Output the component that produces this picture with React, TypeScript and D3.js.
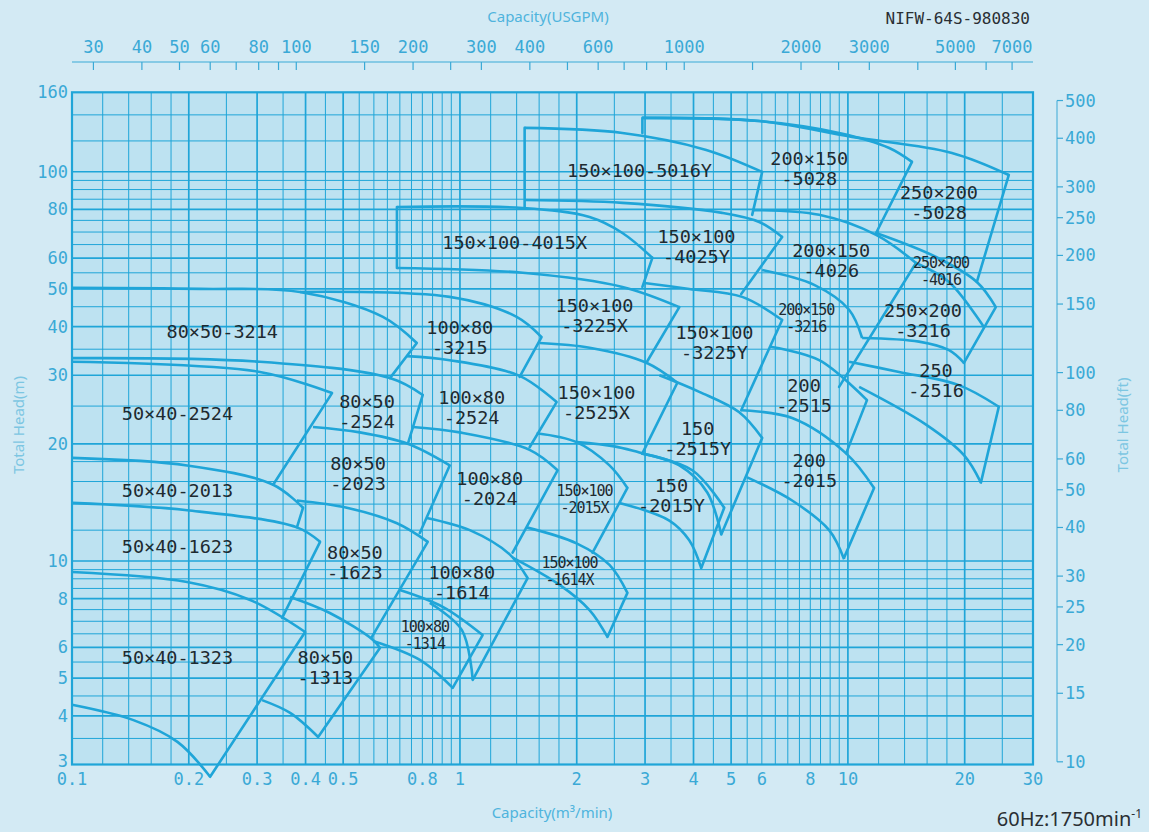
import React from 'react';
import * as d3 from 'd3';

// axis ticks
const qTicks = [0.1, 0.2, 0.3, 0.4, 0.5, 0.8, 1, 2, 3, 4, 5, 6, 8, 10, 20, 30];
const hTicks = [3, 4, 5, 6, 8, 10, 20, 30, 40, 50, 60, 80, 100, 160];
const ftTicks = [10, 15, 20, 25, 30, 40, 50, 60, 80, 100, 150, 200, 250, 300, 400, 500];
const gpmLabels = [30, 40, 50, 60, 80, 100, 150, 200, 300, 400, 600, 1000, 2000, 3000, 5000, 7000];
const gpmMinor = [70, 90, 250, 500, 700, 800, 900, 1500, 2500, 4000, 6000];

// grid
const qGrid = [0.12, 0.14, 0.16, 0.18, 0.2, 0.25, 0.3, 0.35, 0.4, 0.45, 0.5, 0.55, 0.6, 0.65, 0.7, 0.75, 0.8, 0.85, 0.9, 0.95,
  1, 1.2, 1.4, 1.6, 1.8, 2, 2.5, 3, 3.5, 4, 4.5, 5, 5.5, 6, 6.5, 7, 7.5, 8, 8.5, 9, 9.5, 10, 12, 14, 16, 18, 20, 25];
const hGrid = [3.5, 4, 4.5, 5, 5.5, 6, 6.5, 7, 7.5, 8, 8.5, 9, 9.5, 10, 12, 14, 16, 18, 20, 25, 30, 35, 40, 45, 50, 55, 60,
  65, 70, 75, 80, 85, 90, 95, 100, 120, 140];
const qMajor = [0.2, 0.3, 0.4, 0.5, 1, 2, 3, 4, 5, 10, 20];
const hMajor = [4, 5, 6, 8, 10, 20, 30, 40, 50, 60, 80, 100];

// performance curves [Q m3/min, H m]
const curves: number[][][] = [
  [[0.1, 50.3], [0.214, 50.0], [0.387, 49.1], [0.633, 42.4], [0.774, 36.3]], // 80x50-3214 top
  [[0.387, 49.1], [0.941, 47.7], [1.40, 42.4], [1.623, 37.6]], // 100x80-3215 top
  [[0.1, 33.2], [0.305, 32.5], [0.660, 29.5], [0.802, 26.7]], // 80x50-3214 bottom
  [[0.1, 32.5], [0.305, 30.6], [0.468, 27.0]], // 50x40-2524 top
  [[0.1, 18.4], [0.198, 17.6], [0.330, 15.7], [0.394, 13.7]], // 50x40-2013 top
  [[0.1, 14.1], [0.198, 13.5], [0.380, 12.2], [0.436, 11.2]], // 50x40-1623 top
  [[0.1, 9.37], [0.198, 8.83], [0.288, 7.94], [0.399, 6.57]], // 50x40-1323 top
  [[0.1, 4.27], [0.144, 3.90], [0.187, 3.43], [0.227, 2.79]], // 50x40-1323 bottom
  [[0.418, 22.1], [0.552, 21.4], [0.734, 20.0], [0.941, 17.6]], // 80x50-2023 top
  [[0.380, 14.3], [0.511, 13.7], [0.688, 12.5], [0.826, 11.2]], // 80x50-1623 top
  [[0.365, 8.08], [0.462, 7.35], [0.597, 6.27], [0.622, 5.98]], // 80x50-1313 top
  [[0.309, 4.39], [0.365, 4.07], [0.431, 3.53]], // 80x50-1313 bottom
  [[0.730, 33.6], [0.941, 32.8], [1.425, 29.9], [1.775, 25.6]], // 100x80-2524 top
  [[0.756, 22.1], [0.999, 21.4], [1.512, 19.3], [1.785, 17.1]], // 100x80-2024 top
  [[0.821, 12.9], [1.060, 12.0], [1.343, 10.4], [1.494, 9.04]], // 100x80-1614 top
  [[0.836, 7.80], [1.011, 6.65], [1.079, 4.95]], // 100x80-1614 bottom
  [[0.700, 8.42], [0.903, 7.62], [1.144, 6.45]], // 100x80-1314 top
  [[0.597, 6.23], [0.788, 5.57], [0.958, 4.72]], // 100x80-1314 bottom
  [[0.688, 81.2], [1.451, 80.7], [2.158, 76.5], [2.623, 69.6], [3.133, 60.1]], // 150x100-4015X top
  [[0.688, 56.6], [1.451, 55.0], [2.623, 50.6], [3.677, 44.9]], // 150x100-3225X top
  [[1.604, 36.3], [2.158, 35.3], [3.024, 32.3], [3.634, 28.7]], // 150x100-2525X top
  [[1.998, 20.2], [2.502, 19.7], [2.953, 18.9]], // 150x100-2525X bottom
  [[1.576, 21.3], [1.998, 20.2], [2.429, 17.6], [2.702, 15.4]], // 150x100-2015X top
  [[1.485, 12.2], [1.998, 11.1], [2.429, 9.77], [2.702, 8.28]], // 150x100-1614X top
  [[1.367, 10.2], [1.807, 8.68], [2.158, 7.48], [2.400, 6.38]], // 150x100-1614X bottom
  [[1.468, 129.6], [2.623, 125.8], [4.314, 113.8], [6.012, 99.9]], // 150x100-5016Y top
  [[1.468, 84.6], [2.623, 83.2], [4.743, 78.4], [5.907, 74.3], [6.769, 68.0]], // 150x100-4025Y top
  [[2.989, 51.8], [3.900, 50.0], [5.340, 47.7], [6.769, 41.6]], // 150x100-3225Y top
  [[3.266, 30.0], [4.139, 27.2], [5.247, 24.1], [6.012, 20.7]], // 150-2515Y top
  [[2.936, 18.9], [3.677, 17.6], [4.340, 15.0], [4.716, 11.7]], // 150-2515Y bottom
  [[2.936, 18.9], [3.971, 17.1], [4.799, 13.7]], // 150-2015Y top
  [[2.577, 14.1], [3.465, 12.7], [3.900, 11.3], [4.188, 9.59]], // 150-2015Y bottom
  [[2.953, 137.5], [5.907, 135.0], [10.25, 122.9], [18.54, 111.8], [25.99, 98.1]], // 250x200-5028 top
  [[2.953, 137.5], [5.907, 135.0], [9.491, 125.8], [12.78, 115.1], [14.63, 106.0]], // 200x150-5028 top
  [[5.666, 79.7], [8.431, 77.5], [11.82, 68.8], [14.98, 58.3]], // 200x150-4026 top
  [[11.82, 69.6], [16.87, 60.4], [21.50, 52.1], [24.06, 44.9]], // 250x200-4016 top
  [[14.98, 58.3], [18.22, 52.1], [22.41, 39.9]], // 250x200-3216 top
  [[10.88, 37.4], [15.25, 36.6], [18.22, 34.8], [19.91, 32.3]], // 250x200-3216 bottom
  [[6.012, 55.9], [8.185, 51.2], [10.07, 44.2], [10.88, 37.4]], // 200x150-3216 top
  [[6.310, 35.5], [8.431, 32.8], [11.20, 25.9]], // 200-2515 top
  [[5.309, 24.4], [7.182, 23.3], [9.894, 18.9], [11.68, 15.4]], // 200-2015 top
  [[5.501, 16.4], [7.182, 14.3], [8.945, 12.0], [9.777, 10.1]], // 200-2015 bottom
  [[10.07, 32.5], [13.55, 30.6], [19.32, 28.3], [24.49, 24.9]], // 250-2516 top
  [[10.69, 28.0], [15.90, 22.4], [19.91, 18.7], [22.02, 15.9]], // 250-2516 bottom
];

// straight limit lines
const edges: number[][][] = [
  [[0.774, 36.3], [0.660, 29.5]],
  [[0.468, 27.0], [0.330, 15.7]],
  [[0.394, 13.7], [0.380, 12.2]],
  [[0.436, 11.2], [0.348, 7.14]],
  [[0.399, 6.57], [0.227, 2.79]],
  [[0.802, 26.7], [0.734, 20.0]],
  [[0.941, 17.6], [0.788, 11.8]],
  [[0.826, 11.2], [0.593, 6.38]],
  [[0.622, 5.98], [0.431, 3.53]],
  [[1.623, 37.6], [1.425, 29.7]],
  [[1.775, 25.6], [1.512, 19.6]],
  [[1.785, 17.1], [1.367, 10.5]],
  [[1.494, 9.04], [1.079, 4.95]],
  [[1.144, 6.45], [0.958, 4.72]],
  [[0.688, 81.2], [0.688, 56.6]],
  [[3.133, 60.1], [2.953, 50.6]],
  [[3.677, 44.9], [3.024, 32.3]],
  [[3.634, 28.7], [2.953, 18.9]],
  [[2.702, 15.4], [2.197, 10.5]],
  [[2.702, 8.28], [2.400, 6.38]],
  [[1.468, 129.6], [1.468, 81.2]],
  [[6.012, 99.9], [5.666, 77.5]],
  [[6.769, 68.0], [5.309, 48.5]],
  [[6.769, 41.6], [5.309, 24.4]],
  [[6.012, 20.7], [4.716, 11.7]],
  [[4.799, 13.7], [4.188, 9.59]],
  [[2.953, 137.5], [2.953, 125.8]],
  [[14.63, 106.0], [11.82, 69.6]],
  [[14.98, 58.3], [9.491, 28.0]],
  [[11.20, 25.9], [9.894, 18.9]],
  [[11.68, 15.4], [9.777, 10.2]],
  [[25.99, 98.1], [21.50, 52.1]],
  [[24.06, 44.9], [19.91, 32.3]],
  [[24.49, 24.9], [22.02, 15.9]],
];

// model names anchored at [Q, H]
const models: [string, number, number][] = [
  ['80×50-3214', 0.244, 39.0],
  ['50×40-2524', 0.187, 24.0],
  ['50×40-2013', 0.187, 15.2],
  ['50×40-1623', 0.187, 10.9],
  ['50×40-1323', 0.187, 5.67],
  ['80×50\n-2524', 0.576, 24.3],
  ['80×50\n-2023', 0.546, 16.8],
  ['80×50\n-1623', 0.536, 9.94],
  ['80×50\n-1313', 0.45, 5.34],
  ['100×80\n-3215', 0.999, 37.6],
  ['100×80\n-2524', 1.072, 24.9],
  ['100×80\n-2024', 1.193, 15.4],
  ['100×80\n-1614', 1.011, 8.83],
  ['100×80\n-1314', 0.812, 6.45],
  ['150×100-4015X', 1.384, 66.0],
  ['150×100\n-3225X', 2.223, 42.9],
  ['150×100\n-2525X', 2.249, 25.6],
  ['150×100\n-2015X', 2.095, 14.4],
  ['150×100\n-1614X', 1.916, 9.37],
  ['150×100-5016Y', 2.903, 101.1],
  ['150×100\n-4025Y', 4.07, 64.5],
  ['150×100\n-3225Y', 4.529, 36.5],
  ['150\n-2515Y', 4.10, 20.7],
  ['150\n-2015Y', 3.509, 14.8],
  ['200×150\n-5028', 7.952, 102.3],
  ['200×150\n-4026', 9.058, 59.3],
  ['200×150\n-3216', 7.812, 41.9],
  ['200\n-2515', 7.71, 26.7],
  ['200\n-2015', 7.952, 17.1],
  ['250×200\n-5028', 17.17, 83.6],
  ['250×200\n-4016', 17.38, 55.3],
  ['250×200\n-3216', 15.62, 41.6],
  ['250\n-2516', 16.87, 29.2],
];
const smallModels = ['100×80\n-1314', '150×100\n-2015X', '150×100\n-1614X', '200×150\n-3216', '250×200\n-4016'];

const M3_TO_GPM = 264.17;
const M_TO_FT = 1 / 0.3048;

const BLUE = '#1fa5d8';
const TICK = '#3aa9d6';
const MONO = '"DejaVu Sans Mono", monospace';
const SANS = '"Noto Sans", "DejaVu Sans", sans-serif';

export default function App() {
  const W = 1149;
  const H = 832;
  const x = d3.scaleLog().domain([0.1, 30]).range([72, 1033]);
  const y = d3.scaleLog().domain([3, 160]).range([764.5, 92.3]);
  const xg = d3.scaleLog().domain([0.1 * M3_TO_GPM, 30 * M3_TO_GPM]).range([72, 1033]);
  const yf = d3.scaleLog().domain([3 * M_TO_FT, 160 * M_TO_FT]).range([764.5, 92.3]);

  const smooth = d3.line<number[]>().x(d => x(d[0])).y(d => y(d[1])).curve(d3.curveCatmullRom.alpha(0.5));
  const straight = d3.line<number[]>().x(d => x(d[0])).y(d => y(d[1]));

  const x0 = x(0.1), x1 = x(30), y0 = y(3), y1 = y(160);
  const rightAxisX = 1057;

  return (
    <div style={{ position: 'absolute', left: 0, top: 0 }}>
      <svg width={W} height={H} style={{ display: 'block' }}>
        <rect width={W} height={H} fill="#d3eaf4" />
        <rect x={x0} y={y1} width={x1 - x0} height={y0 - y1} fill="#bde2f1" />

        {/* grid */}
        {qGrid.map(q => (
          <line key={'qg' + q} x1={x(q)} x2={x(q)} y1={y1} y2={y0} stroke={BLUE}
            strokeWidth={qMajor.includes(q) ? 1.7 : 1} />
        ))}
        {hGrid.map(h => (
          <line key={'hg' + h} x1={x0} x2={x1} y1={y(h)} y2={y(h)} stroke={BLUE}
            strokeWidth={hMajor.includes(h) ? 1.7 : 1} />
        ))}
        <rect x={x0} y={y1} width={x1 - x0} height={y0 - y1} fill="none" stroke={BLUE} strokeWidth={2.2} />

        {/* curves */}
        {curves.map((c, i) => (
          <path key={'c' + i} d={smooth(c) || ''} fill="none" stroke={BLUE} strokeWidth={2.6} strokeLinejoin="round" />
        ))}
        {edges.map((e, i) => (
          <path key={'e' + i} d={straight(e) || ''} fill="none" stroke={BLUE} strokeWidth={2.6} strokeLinecap="round" />
        ))}

        {/* model labels */}
        {models.map(([t, q, h]) => {
          const lines = t.split('\n');
          const small = smallModels.includes(t);
          const fs = small ? 15 : 18.5;
          const lh = small ? 17 : 20;
          const cy = y(h) - ((lines.length - 1) * lh) / 2;
          return (
            <text key={t} x={x(q)} y={cy} fontFamily={MONO} fontSize={fs} fill="#1e2a30"
              textAnchor="middle" dominantBaseline="central" letterSpacing={small ? -1 : 0}>
              {lines.map((l, j) => (
                <tspan key={j} x={x(q)} y={cy + j * lh}>{l}</tspan>
              ))}
            </text>
          );
        })}

        {/* bottom axis labels */}
        {qTicks.map(q => (
          <text key={'qt' + q} x={x(q)} y={779} textAnchor="middle" dominantBaseline="central"
            fontFamily={MONO} fontSize={17} fill={TICK}>{q}</text>
        ))}
        <text x={552} y={818} textAnchor="middle" fontFamily={SANS} fontSize={15} fill="#4fb4dd">Capacity(m³/min)</text>

        {/* left axis labels */}
        {hTicks.map(h => (
          <text key={'ht' + h} x={68} y={h === 3 ? 761 : y(h)} textAnchor="end" dominantBaseline="central"
            fontFamily={MONO} fontSize={17} fill={TICK}>{h}</text>
        ))}
        <text transform={`translate(24,425) rotate(-90)`} textAnchor="middle" fontFamily={SANS} fontSize={15}
          fill="#7cc6e2">Total Head(m)</text>

        {/* top axis (USGPM) */}
        <line x1={x0} x2={x1} y1={62} y2={62} stroke={TICK} strokeWidth={1.2} />
        {gpmLabels.concat(gpmMinor).map(g => (
          <line key={'gt' + g} x1={xg(g)} x2={xg(g)} y1={62} y2={70} stroke={TICK} strokeWidth={1.2} />
        ))}
        {gpmLabels.map(g => (
          <text key={'gl' + g} x={xg(g)} y={47} textAnchor="middle" dominantBaseline="central"
            fontFamily={MONO} fontSize={17} fill={TICK}>{g}</text>
        ))}
        <text x={548} y={22} textAnchor="middle" fontFamily={SANS} fontSize={15} fill="#4fb4dd">Capacity(USGPM)</text>
        <text x={1030} y={24} textAnchor="end" fontFamily={MONO} fontSize={16} fill="#2a2f33">NIFW-64S-980830</text>

        {/* right axis (ft) */}
        <line x1={rightAxisX} x2={rightAxisX} y1={yf(500)} y2={yf(10)} stroke={TICK} strokeWidth={1} />
        {ftTicks.map(f => (
          <g key={'ft' + f}>
            <line x1={rightAxisX} x2={rightAxisX + 6} y1={yf(f)} y2={yf(f)} stroke={TICK} strokeWidth={1.2} />
            <text x={rightAxisX + 8} y={yf(f)} dominantBaseline="central" fontFamily={MONO} fontSize={17}
              fill={TICK}>{f}</text>
          </g>
        ))}
        <text transform={`translate(1128,425) rotate(-90)`} textAnchor="middle" fontFamily={SANS} fontSize={15}
          fill="#7cc6e2">Total Head(ft)</text>

        <text x={1142} y={826} textAnchor="end" fontFamily={SANS} fontSize={20} fill="#2a2f33">
          60Hz:1750min<tspan fontSize={12} dy={-8}>-1</tspan>
        </text>
      </svg>
    </div>
  );
}
